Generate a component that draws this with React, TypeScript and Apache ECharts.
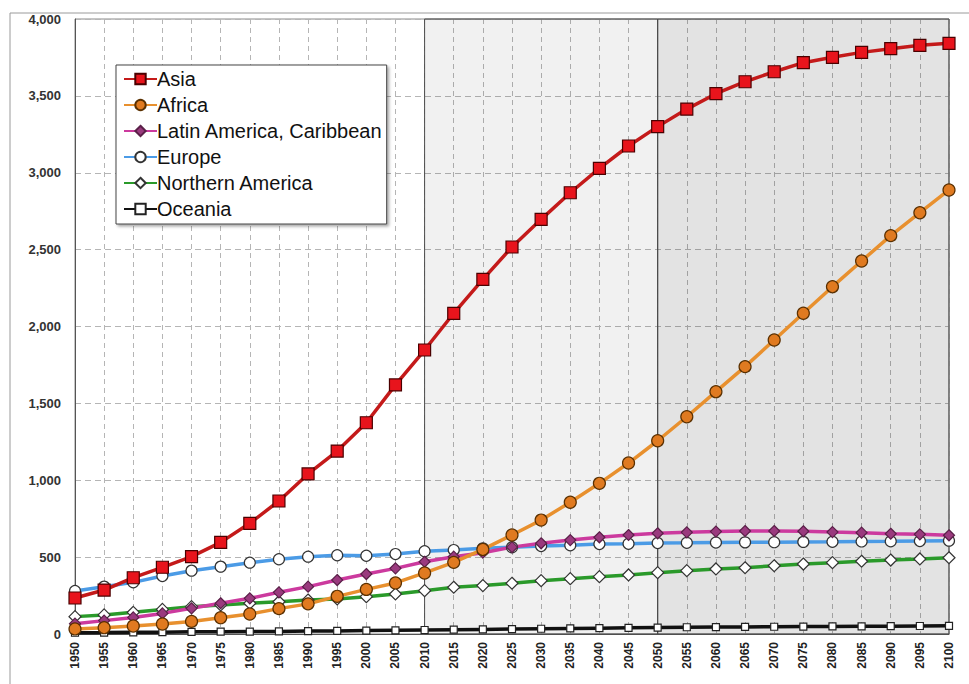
import React, { useEffect, useRef } from "react";
import * as echarts from "echarts";

const years = [
  "1950", "1955", "1960", "1965", "1970", "1975", "1980", "1985", "1990", "1995",
  "2000", "2005", "2010", "2015", "2020", "2025", "2030", "2035", "2040", "2045",
  "2050", "2055", "2060", "2065", "2070", "2075", "2080", "2085", "2090", "2095", "2100",
];

const asia = [234, 286, 366, 434, 503, 596, 720, 865, 1041, 1190, 1374, 1620, 1847, 2086, 2307, 2517, 2697, 2870, 3029, 3174, 3300, 3414, 3514, 3592, 3657, 3716, 3751, 3783, 3807, 3829, 3842];
const africa = [33, 41, 52, 65, 82, 106, 130, 165, 196, 245, 290, 332, 397, 466, 550, 644, 741, 857, 980, 1112, 1257, 1413, 1576, 1739, 1912, 2086, 2259, 2426, 2591, 2740, 2888];
const latinAmerica = [67, 87, 108, 134, 167, 200, 232, 271, 308, 351, 390, 427, 470, 503, 529, 565, 590, 611, 629, 644, 655, 661, 666, 670, 670, 668, 663, 659, 652, 648, 642];
const europe = [280, 308, 336, 377, 412, 438, 464, 486, 503, 512, 509, 520, 538, 546, 557, 564, 572, 577, 585, 587, 592, 593, 595, 596, 597, 599, 600, 602, 603, 605, 607];
const northernAmerica = [113, 124, 141, 160, 178, 189, 200, 210, 221, 228, 243, 260, 282, 304, 315, 330, 347, 360, 373, 384, 399, 412, 423, 431, 444, 455, 464, 473, 481, 488, 496];
const oceania = [8, 9, 11, 12, 14, 15, 16, 17, 19, 20, 22, 24, 26, 28, 30, 32, 34, 36, 38, 40, 42, 44, 45, 46, 47, 48, 49, 50, 51, 52, 53];

const shadeStart = "2010";
const shadeMid = "2050";
const shadeEnd = "2100";

export default function App() {
  const ref = useRef<HTMLDivElement>(null);

  useEffect(() => {
    if (!ref.current) return;
    const chart = echarts.init(ref.current, null, { renderer: "svg" });
    const font = "'Liberation Sans', Arial, sans-serif";

    const mk = (
      name: string,
      data: number[],
      lineColor: string,
      symbol: string,
      symbolSize: number,
      fill: string,
      border: string
    ) => ({
      name,
      type: "line",
      data,
      symbol,
      symbolSize,
      showSymbol: true,
      lineStyle: { color: lineColor, width: 3.5 },
      itemStyle: { color: fill, borderColor: border, borderWidth: 1.2 },
      emphasis: { disabled: true },
    });

    chart.setOption({
      animation: false,
      backgroundColor: "#ffffff",
      textStyle: { fontFamily: font },
      graphic: [
        {
          type: "rect",
          shape: { x: 10, y: 13, width: 1000, height: 700 },
          style: { fill: "none", stroke: "#9a9a9a", lineWidth: 1 },
          silent: true,
          z: -10,
        },
      ],
      grid: {
        left: 75,
        right: 20,
        top: 19,
        bottom: 50,
        show: true,
        borderColor: "#8a8a8a",
        borderWidth: 1,
        backgroundColor: "transparent",
      },
      legend: {
        orient: "vertical",
        left: 116,
        top: 65,
        padding: [4, 4, 5, 7],
        itemGap: 6,
        itemWidth: 33,
        itemHeight: 13,
        backgroundColor: "#ffffff",
        borderColor: "#444",
        borderWidth: 1,
        shadowColor: "rgba(0,0,0,0.35)",
        shadowBlur: 3,
        shadowOffsetX: 2,
        shadowOffsetY: 2,
        textStyle: { fontSize: 20, color: "#111", fontFamily: font, padding: [0, 0, 0, -5] },
        data: ["Asia", "Africa", "Latin America, Caribbean", "Europe", "Northern America", "Oceania"],
      },
      xAxis: {
        type: "category",
        data: years,
        boundaryGap: false,
        axisLine: { lineStyle: { color: "#555", width: 1 } },
        axisTick: { show: false },
        axisLabel: {
          rotate: 90,
          interval: 0,
          fontSize: 12,
          fontWeight: "bold",
          color: "#222",
          margin: 8,
          fontFamily: font,
        },
        splitLine: {
          show: true,
          interval: 0,
          lineStyle: { color: "#b5b5b5", type: [5, 4], width: 1 },
        },
      },
      yAxis: {
        type: "value",
        min: 0,
        max: 4000,
        interval: 500,
        axisLine: { show: true, lineStyle: { color: "#555", width: 1 } },
        axisTick: { show: false },
        axisLabel: {
          fontSize: 13,
          fontWeight: "bold",
          color: "#333",
          margin: 14,
          fontFamily: font,
          formatter: (v: number) => v.toLocaleString("en-US"),
        },
        splitLine: {
          show: true,
          lineStyle: { color: "#b5b5b5", type: [6, 4], width: 1 },
        },
      },
      series: [
        {
          name: "shade",
          type: "line",
          data: [],
          silent: true,
          markArea: {
            silent: true,
            itemStyle: { borderColor: "#4a4a4a", borderWidth: 1 },
            data: [
              [
                { xAxis: shadeStart, itemStyle: { color: "rgba(0,0,0,0.055)" } },
                { xAxis: shadeMid },
              ],
              [
                { xAxis: shadeMid, itemStyle: { color: "rgba(0,0,0,0.11)" } },
                { xAxis: shadeEnd },
              ],
            ],
          },
        },
        mk("Oceania", oceania, "#111111", "rect", 7, "#ffffff", "#222"),
        mk("Northern America", northernAmerica, "#2a9a2a", "diamond", 12, "#ffffff", "#333"),
        mk("Europe", europe, "#4b9be6", "circle", 11, "#ffffff", "#333"),
        mk("Latin America, Caribbean", latinAmerica, "#cc3a9e", "diamond", 11, "#9a3a7e", "#5a2048"),
        mk("Africa", africa, "#e8902e", "circle", 12, "#e07a20", "#5a3000"),
        mk("Asia", asia, "#c41a1a", "rect", 12, "#e8141c", "#4a0000"),
      ],
    });

    return () => chart.dispose();
  }, []);

  return (
    <div
      ref={ref}
      style={{ position: "fixed", left: 0, top: 0, width: 969, height: 684 }}
    />
  );
}
